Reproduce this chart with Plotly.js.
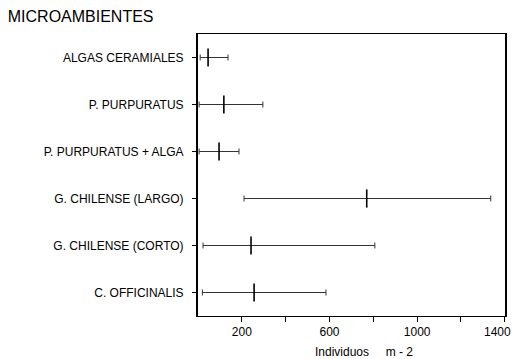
<!DOCTYPE html>
<html><head><meta charset="utf-8">
<script src="https://cdn.plot.ly/plotly-3.0.1.min.js"></script>
<style>html,body{margin:0;padding:0;background:#fff}#chart{width:517px;height:359px}</style>
</head><body><div id="chart"></div>
<script>
var categories = ["ALGAS CERAMIALES","P. PURPURATUS","P. PURPURATUS + ALGA","G. CHILENSE (LARGO)","G. CHILENSE (CORTO)","C. OFFICINALIS"];
var minVals = [10, 5, 5, 210, 23, 20];
var medianVals = [46, 118, 96, 770, 242, 256];
var maxVals = [137, 296, 187, 1336, 807, 584];
var xTickVals = [200, 400, 600, 800, 1000, 1200, 1400];
var xTickText = ["200", "", "600", "", "1000", "", "1400"];

var plus = maxVals.map(function(v,i){return v - medianVals[i];});
var minus = medianVals.map(function(v,i){return v - minVals[i];});
var fontFam = "Liberation Sans, Arial, sans-serif";

// last tick label drawn as annotation, nudged left so it stays inside the page
var lastIdx = xTickVals.length - 1;
var shownText = xTickText.map(function(t,i){return i === lastIdx ? "" : t;});

var trace = {
  type: "scatter", mode: "markers",
  x: medianVals, y: categories,
  marker: {symbol: "line-ns-open", size: 13, color: "#000", line: {width: 1.6, color: "#000"}},
  error_x: {type: "data", symmetric: false, array: plus, arrayminus: minus,
            color: "#333", thickness: 1, width: 3},
  hoverinfo: "skip", showlegend: false
};

var layout = {
  width: 517, height: 359,
  margin: {l: 198, r: 12, t: 34, b: 43},
  paper_bgcolor: "#fff", plot_bgcolor: "#fff",
  font: {family: fontFam, color: "#000", size: 12},
  title: {text: "MICROAMBIENTES", x: 0.015, xanchor: "left", y: 0.955, yanchor: "middle",
          font: {family: fontFam, size: 16, color: "#000"}},
  xaxis: {range: [0, 1401], tickvals: xTickVals, ticktext: shownText,
          ticks: "outside", ticklen: 5, tickcolor: "#000", tickwidth: 1,
          showline: true, linecolor: "#000", linewidth: 1, mirror: true,
          showgrid: false, zeroline: false, fixedrange: true,
          tickfont: {size: 12, family: fontFam}},
  yaxis: {type: "category", categoryorder: "array", categoryarray: categories,
          range: [5.5, -0.5], autorange: false,
          ticks: "outside", ticklen: 4, tickcolor: "#000", tickwidth: 1,
          ticklabelstandoff: 6,
          showline: true, linecolor: "#000", linewidth: 2, mirror: true,
          showgrid: false, zeroline: false, fixedrange: true,
          tickfont: {size: 12, family: fontFam}},
  annotations: [
    {text: xTickText[lastIdx], xref: "x", yref: "paper", x: xTickVals[lastIdx], xshift: -7,
     y: 0, yshift: -7, xanchor: "center", yanchor: "top", showarrow: false,
     font: {size: 12, family: fontFam, color: "#000"}},
    {text: "Individuos&nbsp;&nbsp;&nbsp;&nbsp;&nbsp;m - 2", xref: "paper", yref: "paper",
     x: 0.54, y: -0.095, xanchor: "center", yanchor: "top", showarrow: false,
     font: {size: 12, family: fontFam, color: "#000"}}]
};

Plotly.newPlot("chart", [trace], layout, {displayModeBar: false, staticPlot: true});
</script></body></html>
